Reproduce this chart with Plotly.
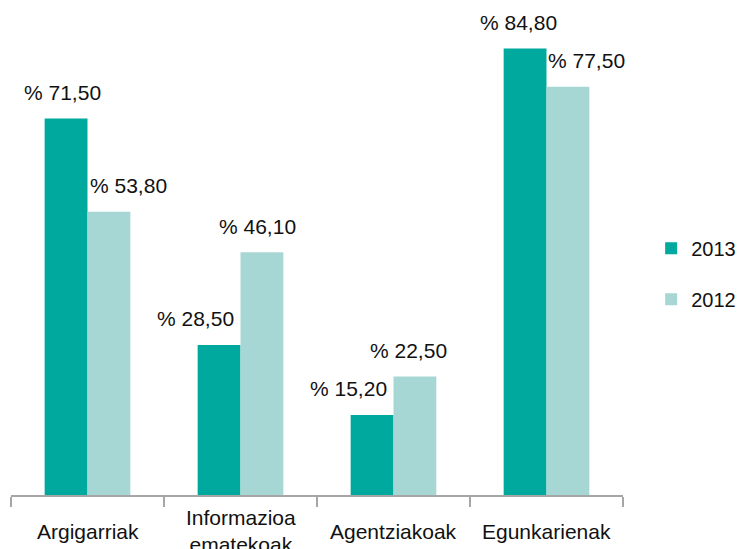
import plotly.graph_objects as go

categories = ["Argigarriak", "Informazioa<br>ematekoak", "Agentziakoak", "Egunkarienak"]
series_names = ["2013", "2012"]
values_2013 = [71.50, 28.50, 15.20, 84.80]
values_2012 = [53.80, 46.10, 22.50, 77.50]

colors = {"2013": "#00A99D", "2012": "#A7D7D4"}
FONT = "Liberation Sans, Arial, sans-serif"
FS = 21

def fmt(v):
    return "% " + f"{v:.2f}".replace(".", ",")

fig = go.Figure()
for name, vals, grp in [("2013", values_2013, "a"), ("2012", values_2012, "b")]:
    fig.add_trace(go.Bar(
        x=categories, y=vals, name=name, legendgroup=grp,
        marker=dict(color=colors[name], line=dict(width=0)),
        hoverinfo="skip",
    ))

# value labels (Excel-style placement offsets)
dx_2013 = [-25, -45, -45, -28]
dx_2012 = [41, 17, 15, 40]
for cat, v, dx in zip(categories, values_2013, dx_2013):
    fig.add_annotation(x=cat, y=v, xref="x", yref="y", text=fmt(v), showarrow=False,
                       xshift=dx, yshift=26, yanchor="middle", xanchor="center",
                       font=dict(family=FONT, size=FS, color="#111111"))
for cat, v, dx in zip(categories, values_2012, dx_2012):
    fig.add_annotation(x=cat, y=v, xref="x", yref="y", text=fmt(v), showarrow=False,
                       xshift=dx, yshift=26, yanchor="middle", xanchor="center",
                       font=dict(family=FONT, size=FS, color="#111111"))

# category labels
for cat in categories:
    fig.add_annotation(x=cat, y=0, xref="x", yref="y", text=cat, showarrow=False,
                       yshift=-36, yanchor="middle", xanchor="center",
                       font=dict(family=FONT, size=FS, color="#111111"))

fig.update_layout(
    width=740, height=549,
    margin=dict(l=11, r=117, t=21, b=54, autoexpand=False),
    paper_bgcolor="white", plot_bgcolor="white",
    barmode="group", bargap=0.44, bargroupgap=0,
    font=dict(family=FONT, size=FS, color="#111111"),
    showlegend=True,
    legend=dict(x=1.046, xanchor="left", xref="paper", y=0.467, yanchor="middle",
                traceorder="grouped", tracegroupgap=22,
                font=dict(family=FONT, size=20, color="#111111"),
                bgcolor="rgba(0,0,0,0)", itemwidth=30, borderwidth=0),
    xaxis=dict(type="category", showticklabels=False, tickson="boundaries",
               ticks="outside", ticklen=10, tickwidth=2, tickcolor="#A6A6A6",
               showline=True, linecolor="#A6A6A6", linewidth=2, showgrid=False,
               range=[-0.5, 3.5], fixedrange=True),
    yaxis=dict(range=[0, 90], visible=False, showgrid=False, zeroline=False),
)

fig.write_html("out.html", config={"displayModeBar": False},
               post_script="document.body.style.margin='0';document.body.style.overflow='hidden';")
